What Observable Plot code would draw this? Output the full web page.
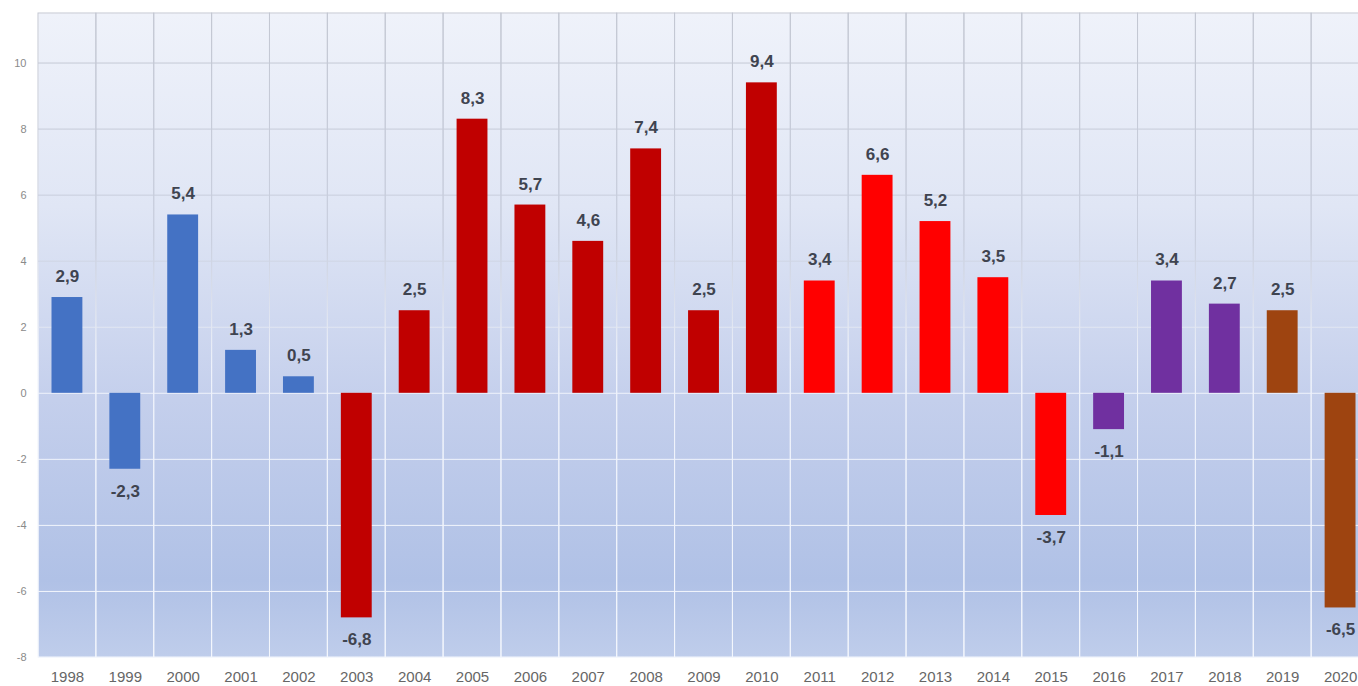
<!DOCTYPE html>
<html><head><meta charset="utf-8">
<script src="https://cdn.jsdelivr.net/npm/d3@7"></script>
<script src="https://cdn.jsdelivr.net/npm/@observablehq/plot@0.6"></script>
<style>
html,body{margin:0;background:#fff;overflow:hidden;font-family:"Liberation Sans",Arial,Helvetica,sans-serif}
#chart svg{display:block;max-width:none !important}
</style>
</head><body><div id="chart"></div>
<script>
const years = ["1998","1999","2000","2001","2002","2003","2004","2005","2006","2007","2008","2009","2010","2011","2012","2013","2014","2015","2016","2017","2018","2019","2020"];
const values = [2.9,-2.3,5.4,1.3,0.5,-6.8,2.5,8.3,5.7,4.6,7.4,2.5,9.4,3.4,6.6,5.2,3.5,-3.7,-1.1,3.4,2.7,2.5,-6.5];
const groups = ["A","A","A","A","A","B","B","B","B","B","B","B","B","C","C","C","C","C","D","D","D","E","E"];
const groupNames = ["A","B","C","D","E"];
const groupColors = ["#4472c4","#c00000","#ff0000","#7030a0","#9e4410"];
const yTicks = [-8,-6,-4,-2,0,2,4,6,8,10];

const data = years.map((y,i)=>({year:y, v:values[i], g:groups[i]}));
const fmt = v => v.toFixed(1).replace(".", ",");

const plot = Plot.plot({
  width: 1369, height: 686,
  marginLeft: 38, marginRight: 0, marginTop: 13, marginBottom: 29,
  style: {fontFamily: '"Liberation Sans", Arial, Helvetica, sans-serif', background: "#fff", maxWidth: "none"},
  x: {type: "band", domain: years, padding: 0, round: false, label: null, tickSize: 0, tickPadding: 14},
  y: {domain: [-8, 11.5], ticks: yTicks, label: null, tickSize: 0, tickPadding: 12, tickFormat: d => String(d)},
  color: {domain: groupNames, range: groupColors},
  marks: [
    Plot.frame({fill: "url(#bg)", stroke: null}),
    Plot.ruleY(yTicks, {stroke: "url(#grid)", strokeWidth: 1}),
    Plot.barY(years, {x: d => d, y1: () => -8, y2: () => 11.5, fill: "none", stroke: "url(#grid)", strokeWidth: 1}),
    Plot.barY(data, {x: "year", y: "v", fill: "g", insetLeft: 13.5, insetRight: 13.5}),
    Plot.text(data.filter(d => d.v >= 0), {x: "year", y: "v", text: d => fmt(d.v), dy: -21, fontSize: 17, fontWeight: "bold", fill: "#3f4450"}),
    Plot.text(data.filter(d => d.v < 0), {x: "year", y: "v", text: d => fmt(d.v), dy: 22, fontSize: 17, fontWeight: "bold", fill: "#3f4450"})
  ]
});
plot.style.maxWidth = "none";

const svg = d3.select(plot);
const defs = svg.insert("defs", ":first-child");
const bg = defs.append("linearGradient").attr("id","bg").attr("x1",0).attr("y1",0).attr("x2",0).attr("y2",1);
[[0,"#eff2fa"],[0.3,"#e0e6f5"],[0.6,"#c4cfec"],[0.88,"#b0c1e6"],[1,"#bfcdeb"]].forEach(([o,c]) => bg.append("stop").attr("offset",o).attr("stop-color",c));
const gr = defs.append("linearGradient").attr("id","grid").attr("gradientUnits","userSpaceOnUse").attr("x1",0).attr("y1",13).attr("x2",0).attr("y2",657);
[[0,"#c3c7d2"],[0.35,"#c9cfdf"],[0.55,"#eef2fb"],[1,"#f4f7fd"]].forEach(([o,c]) => gr.append("stop").attr("offset",o).attr("stop-color",c));

svg.selectAll("[aria-label='x-axis tick label'] text").attr("font-size", 15).attr("fill", "#666");
svg.selectAll("[aria-label='y-axis tick label'] text").attr("font-size", 11).attr("fill", "#8a8a8a");
svg.select("[aria-label='x-axis tick label']").attr("font-size", 15).attr("fill", "#666");
svg.select("[aria-label='y-axis tick label']").attr("font-size", 11).attr("fill", "#8a8a8a");

document.getElementById("chart").appendChild(plot);
</script>
</body></html>
